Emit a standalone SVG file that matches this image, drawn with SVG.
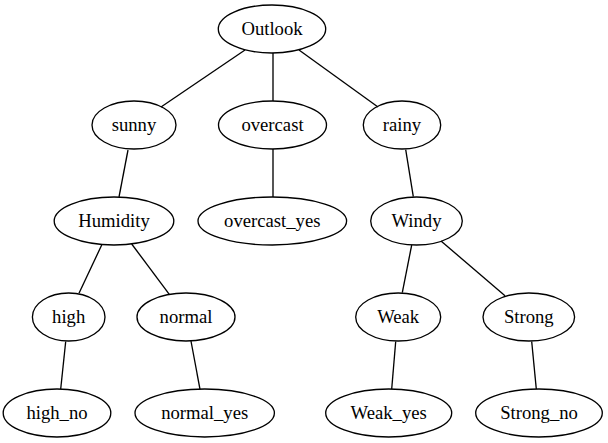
<svg xmlns="http://www.w3.org/2000/svg" width="608" height="443" viewBox="0 0 608 443">
<style>
.n ellipse{fill:none;stroke:#000;stroke-width:1.33}
.n text{font-family:'Liberation Serif','Times New Roman',Times,'Nimbus Roman','Noto Serif','DejaVu Serif',serif;font-size:18.67px;text-anchor:middle;fill:#000}
#edges line{stroke:#000;stroke-width:1.33}
</style>
<rect width="608" height="443" fill="#fff"/>
<g id="edges">
<line x1="245" y1="50" x2="161" y2="107"/>
<line x1="273" y1="53" x2="273" y2="101"/>
<line x1="299" y1="50" x2="378" y2="107"/>
<line x1="128" y1="150" x2="119" y2="197"/>
<line x1="273" y1="149" x2="273" y2="197"/>
<line x1="405.7" y1="149.7" x2="413.3" y2="196.7"/>
<line x1="101.7" y1="245" x2="79" y2="293.3"/>
<line x1="131.7" y1="244" x2="169.3" y2="294.3"/>
<line x1="411.7" y1="245" x2="402.3" y2="292.7"/>
<line x1="441" y1="241" x2="505" y2="295.7"/>
<line x1="65.7" y1="341.5" x2="60.7" y2="389"/>
<line x1="191" y1="341" x2="200" y2="389.3"/>
<line x1="395.7" y1="341.5" x2="391.7" y2="389"/>
<line x1="531.7" y1="341.5" x2="536.3" y2="389"/>
</g>
<g id="Outlook" class="n"><ellipse cx="272" cy="29" rx="53.7" ry="24"/><text x="272" y="34.5">Outlook</text></g>
<g id="sunny" class="n"><ellipse cx="134" cy="125" rx="42" ry="24"/><text x="134" y="130.5">sunny</text></g>
<g id="overcast" class="n"><ellipse cx="272.5" cy="125" rx="54" ry="24"/><text x="272.5" y="130.5">overcast</text></g>
<g id="rainy" class="n"><ellipse cx="402" cy="125" rx="38.7" ry="24"/><text x="402" y="130.5">rainy</text></g>
<g id="Humidity" class="n"><ellipse cx="114" cy="221" rx="59.8" ry="24"/><text x="114" y="226.5">Humidity</text></g>
<g id="overcast_yes" class="n"><ellipse cx="272.3" cy="221" rx="74.3" ry="24"/><text x="272.3" y="226.5">overcast_yes</text></g>
<g id="Windy" class="n"><ellipse cx="416.5" cy="221" rx="45.8" ry="24"/><text x="416.5" y="226.5">Windy</text></g>
<g id="high" class="n"><ellipse cx="68.7" cy="317" rx="36.3" ry="24"/><text x="68.7" y="322.5">high</text></g>
<g id="normal" class="n"><ellipse cx="186" cy="317" rx="49" ry="24"/><text x="186" y="322.5">normal</text></g>
<g id="Weak" class="n"><ellipse cx="398.2" cy="317" rx="42.5" ry="24"/><text x="398.2" y="322.5">Weak</text></g>
<g id="Strong" class="n"><ellipse cx="528.8" cy="317" rx="45.8" ry="24"/><text x="528.8" y="322.5">Strong</text></g>
<g id="high_no" class="n"><ellipse cx="57" cy="413" rx="53.8" ry="24"/><text x="57" y="418.5">high_no</text></g>
<g id="normal_yes" class="n"><ellipse cx="204.7" cy="413" rx="69.7" ry="24"/><text x="204.7" y="418.5">normal_yes</text></g>
<g id="Weak_yes" class="n"><ellipse cx="388.7" cy="413" rx="63" ry="24"/><text x="388.7" y="418.5">Weak_yes</text></g>
<g id="Strong_no" class="n"><ellipse cx="539" cy="413" rx="63.3" ry="24"/><text x="539" y="418.5">Strong_no</text></g>
</svg>
